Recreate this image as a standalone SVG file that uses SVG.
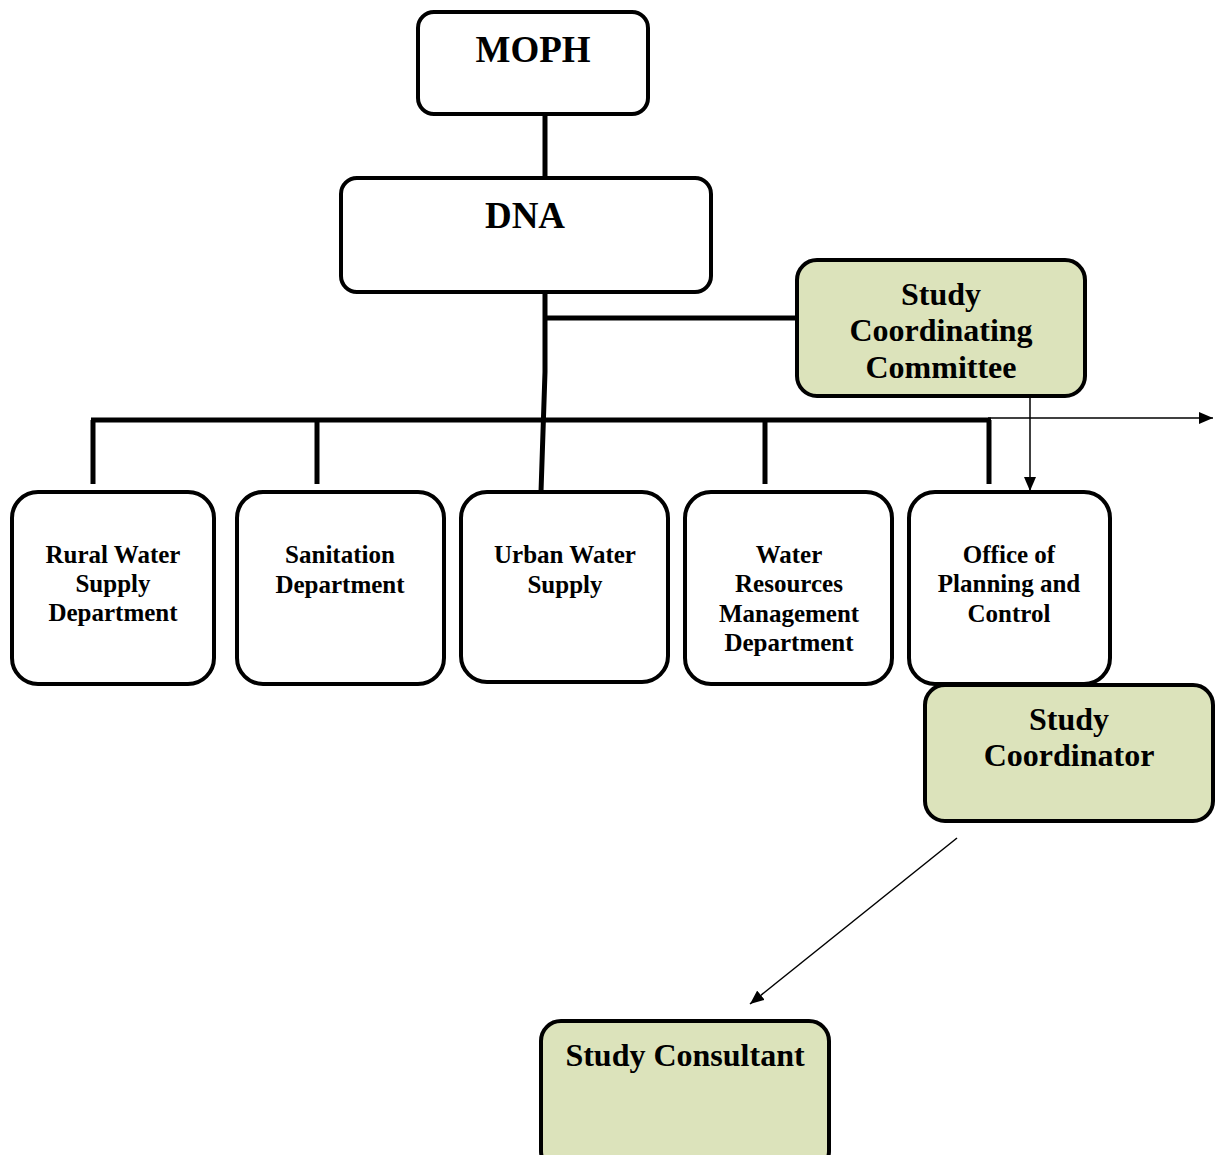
<svg xmlns="http://www.w3.org/2000/svg" width="1215" height="1155" viewBox="0 0 1215 1155">
<style>
.box{fill:#fff;stroke:#000;stroke-width:4}
.grn{fill:#dce3bb;stroke:#000;stroke-width:4}
.t{font-family:"Liberation Serif","Times New Roman",serif;font-weight:bold;text-anchor:middle;fill:#000}
.big{font-size:37px}
.mid{font-size:32px}
.sm{font-size:25px}
.thick{stroke:#000;stroke-width:5;fill:none}
.thin{stroke:#000;stroke-width:1.5;fill:none}
</style>
<defs>
<marker id="ahL" viewBox="0 0 14 12" refX="14" refY="6" markerWidth="14" markerHeight="12" markerUnits="userSpaceOnUse" orient="auto">
<path d="M0,0 L14,6 L0,12 z" fill="#000"/>
</marker>
</defs>
<g id="connectors">
<line class="thick" x1="545" y1="114" x2="545" y2="178"/>
<polyline class="thick" points="545,292 545,372 541,492"/>
<line class="thick" x1="545" y1="318" x2="799" y2="318"/>
<line class="thick" x1="91" y1="420" x2="991" y2="420"/>
<line class="thick" x1="93" y1="420" x2="93" y2="484"/>
<line class="thick" x1="317" y1="420" x2="317" y2="484"/>
<line class="thick" x1="765" y1="420" x2="765" y2="484"/>
<line class="thick" x1="989" y1="420" x2="989" y2="484"/>
<line class="thin" x1="988" y1="418" x2="1213" y2="418" marker-end="url(#ahL)"/>
<line class="thin" x1="1030" y1="396" x2="1030" y2="491" marker-end="url(#ahL)"/>
<line class="thin" x1="957" y1="838" x2="750" y2="1004" marker-end="url(#ahL)"/>
</g>
<g id="moph">
<rect class="box" x="418" y="12" width="230" height="102" rx="16"/>
<text class="t big" x="533" y="62">MOPH</text>
</g>
<g id="dna">
<rect class="box" x="341" y="178" width="370" height="114" rx="16"/>
<text class="t big" x="525" y="228">DNA</text>
</g>
<g id="scc">
<rect class="grn" x="797" y="260" width="288" height="136" rx="20"/>
<text class="t mid" x="941" y="305">Study</text>
<text class="t mid" x="941" y="341">Coordinating</text>
<text class="t mid" x="941" y="378">Committee</text>
</g>
<g id="rural">
<rect class="box" x="12" y="492" width="202" height="192" rx="26"/>
<text class="t sm" x="113" y="563">Rural Water</text>
<text class="t sm" x="113" y="592">Supply</text>
<text class="t sm" x="113" y="621">Department</text>
</g>
<g id="sanitation">
<rect class="box" x="237" y="492" width="207" height="192" rx="26"/>
<text class="t sm" x="340" y="563">Sanitation</text>
<text class="t sm" x="340" y="593">Department</text>
</g>
<g id="urban">
<rect class="box" x="461" y="492" width="207" height="190" rx="26"/>
<text class="t sm" x="565" y="563">Urban Water</text>
<text class="t sm" x="565" y="593">Supply</text>
</g>
<g id="water">
<rect class="box" x="685" y="492" width="207" height="192" rx="26"/>
<text class="t sm" x="789" y="563">Water</text>
<text class="t sm" x="789" y="592">Resources</text>
<text class="t sm" x="789" y="622">Management</text>
<text class="t sm" x="789" y="651">Department</text>
</g>
<g id="office">
<rect class="box" x="909" y="492" width="201" height="192" rx="26"/>
<text class="t sm" x="1009" y="563">Office of</text>
<text class="t sm" x="1009" y="592">Planning and</text>
<text class="t sm" x="1009" y="622">Control</text>
</g>
<g id="coordinator">
<rect class="grn" x="925" y="685" width="288" height="136" rx="20"/>
<text class="t mid" x="1069" y="730">Study</text>
<text class="t mid" x="1069" y="766">Coordinator</text>
</g>
<g id="consultant">
<rect class="grn" x="541" y="1021" width="288" height="150" rx="20"/>
<text class="t mid" x="685" y="1066">Study Consultant</text>
</g>
</svg>
